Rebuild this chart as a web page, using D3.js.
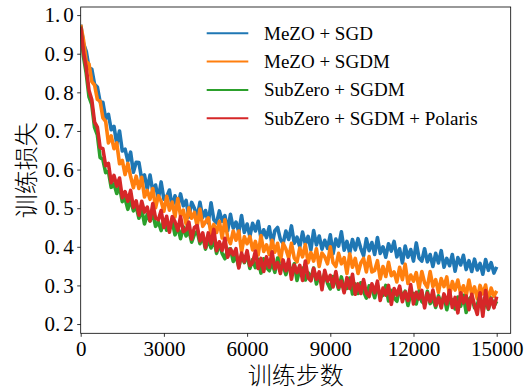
<!DOCTYPE html>
<html>
<head>
<meta charset="utf-8">
<script src="https://cdn.jsdelivr.net/npm/d3@7/dist/d3.min.js"></script>
<style>
  html, body { margin: 0; padding: 0; background: #fff; }
  svg { display: block; }
</style>
</head>
<body>
<svg id="chart" width="531" height="389"></svg>
<script>
// Training loss logged every 100 steps, 0 … 15000
const stepInterval = 100;

const mezoSgd = [
  .975,.927,.906,.863,.860,.821,.814,.775,.774,.732,
  .743,.703,.712,.666,.700,.648,.653,.622,.645,.593,
  .619,.618,.575,.586,.549,.586,.544,.560,.524,.568,
  .523,.529,.547,.502,.532,.505,.537,.506,.520,.477,
  .515,.500,.476,.515,.476,.494,.462,.514,.470,.462,
  .493,.466,.481,.442,.484,.448,.464,.438,.481,.437,
  .459,.427,.461,.441,.466,.422,.444,.424,.452,.405,
  .442,.450,.419,.409,.441,.419,.454,.409,.425,.400,
  .438,.407,.427,.392,.442,.405,.428,.394,.417,.396,
  .431,.382,.420,.402,.439,.391,.414,.384,.419,.392,
  .421,.396,.377,.421,.390,.411,.380,.424,.383,.400,
  .373,.408,.389,.414,.374,.395,.358,.402,.373,.393,
  .363,.410,.371,.363,.395,.361,.380,.349,.383,.358,
  .390,.347,.370,.351,.380,.337,.372,.353,.378,.341,
  .364,.336,.368,.340,.357,.329,.367,.339,.359,.332,
  .348
];

const mezoSgdm = [
  .975,.936,.880,.873,.828,.819,.782,.777,.734,.725,
  .669,.687,.654,.669,.615,.624,.587,.616,.582,.553,
  .583,.551,.580,.529,.546,.523,.551,.501,.532,.518,
  .492,.531,.495,.516,.477,.525,.480,.495,.459,.501,
  .474,.489,.453,.498,.453,.464,.475,.433,.458,.437,
  .466,.423,.470,.424,.408,.441,.417,.441,.387,.426,
  .408,.427,.392,.414,.379,.429,.388,.405,.380,.417,
  .386,.409,.362,.409,.394,.371,.409,.371,.361,.397,
  .374,.406,.359,.385,.363,.395,.349,.384,.374,.356,
  .400,.359,.349,.383,.356,.372,.331,.382,.347,.370,
  .331,.358,.370,.335,.375,.335,.339,.364,.317,.349,
  .323,.360,.325,.335,.309,.347,.315,.355,.305,.327,
  .311,.333,.292,.336,.307,.295,.336,.297,.315,.282,
  .318,.297,.322,.273,.310,.288,.314,.279,.299,.273,
  .314,.277,.296,.265,.300,.278,.301,.258,.293,.272,
  .286
];

const subzeroSgdm = [
  .970,.892,.849,.788,.768,.709,.690,.631,.626,.592,
  .595,.554,.563,.538,.556,.517,.525,.497,.524,.493,
  .505,.474,.498,.459,.484,.467,.487,.453,.465,.442,
  .471,.443,.446,.467,.431,.453,.421,.452,.428,.443,
  .412,.432,.440,.408,.428,.394,.419,.397,.421,.383,
  .408,.383,.369,.393,.395,.362,.377,.348,.379,.359,
  .380,.344,.367,.346,.368,.332,.369,.347,.338,.360,
  .334,.371,.340,.351,.328,.355,.330,.356,.313,.342,
  .345,.314,.333,.316,.345,.304,.328,.305,.332,.306,
  .291,.323,.313,.290,.322,.292,.292,.319,.278,.304,
  .279,.307,.284,.267,.299,.293,.268,.300,.271,.275,
  .300,.260,.287,.268,.259,.292,.268,.285,.248,.278,
  .279,.252,.285,.258,.252,.285,.253,.267,.243,.273,
  .251,.274,.237,.268,.262,.239,.270,.246,.274,.230,
  .264,.271,.242,.250,.273,.231,.264,.238,.267,.246,
  .259
];

const subzeroPolaris = [
  .970,.904,.863,.805,.781,.723,.710,.657,.654,.610,
  .616,.566,.585,.557,.578,.527,.543,.518,.546,.502,
  .519,.482,.518,.490,.503,.467,.512,.474,.470,.494,
  .450,.479,.438,.478,.465,.442,.478,.439,.444,.464,
  .420,.450,.455,.415,.436,.398,.436,.408,.445,.390,
  .413,.391,.422,.373,.394,.379,.395,.345,.384,.361,
  .390,.351,.359,.389,.344,.370,.336,.374,.347,.387,
  .343,.359,.331,.366,.338,.367,.316,.353,.333,.352,
  .313,.363,.320,.312,.344,.316,.335,.289,.339,.311,
  .326,.296,.336,.295,.311,.281,.320,.292,.329,.277,
  .304,.279,.315,.280,.271,.304,.281,.311,.261,.293,
  .275,.300,.251,.292,.275,.298,.258,.283,.261,.302,
  .252,.282,.265,.287,.242,.280,.258,.288,.248,.268,
  .242,.278,.252,.287,.243,.269,.229,.281,.255,.273,
  .237,.277,.249,.225,.281,.220,.287,.240,.266,.242,
  .271
];

const seriesNames = ["MeZO + SGD", "MeZO + SGDM", "SubZero + SGDM", "SubZero + SGDM + Polaris"];
const seriesValues = [mezoSgd, mezoSgdm, subzeroSgdm, subzeroPolaris];
const seriesColors = ["#1f77b4", "#ff7f0e", "#2ca02c", "#d62728"];

const xTicks = [0, 3000, 6000, 9000, 12000, 15000];
const yTicks = [0.2, 0.3, 0.4, 0.5, 0.6, 0.7, 0.8, 0.9, 1.0];
const xTitle = "训练步数";
const yTitle = "训练损失";

// ---- layout ----
const plot = { left: 80.7, right: 510.7, top: 7, bottom: 333.3 };
const serif = "'Liberation Serif', 'Times New Roman', 'DejaVu Serif', serif";
const cjk = "'Noto Sans CJK SC', 'Noto Sans', sans-serif";

const svg = d3.select("#chart");

const x = d3.scaleLinear().domain([0, 15505]).range([plot.left, plot.right]);
const y = d3.scaleLinear().domain([0.176, 1.021]).range([plot.bottom, plot.top]);

svg.append("defs").append("clipPath").attr("id", "plot-clip")
  .append("rect")
  .attr("x", plot.left).attr("y", plot.top)
  .attr("width", plot.right - plot.left).attr("height", plot.bottom - plot.top);

// ---- loss curves ----
const line = d3.line()
  .x((d, i) => x(i * stepInterval))
  .y(d => y(d));

const curves = svg.append("g").attr("clip-path", "url(#plot-clip)");
seriesValues.forEach((vals, k) => {
  curves.append("path")
    .datum(vals)
    .attr("d", line)
    .attr("fill", "none")
    .attr("stroke", seriesColors[k])
    .attr("stroke-width", 3.6)
    .attr("stroke-linejoin", "round");
});

// ---- axes ----
const xAxis = d3.axisBottom(x).tickValues(xTicks).tickFormat(d3.format("d"))
  .tickSizeInner(3.5).tickSizeOuter(0).tickPadding(4);
const yAxis = d3.axisLeft(y).tickValues(yTicks)
  .tickSizeInner(3.5).tickSizeOuter(0).tickPadding(3.5);

const gx = svg.append("g").attr("transform", `translate(0,${plot.bottom})`).call(xAxis);
const gy = svg.append("g").attr("transform", `translate(${plot.left},0)`).call(yAxis);

[gx, gy].forEach(g => {
  g.attr("font-family", null).attr("font-size", null);
  g.select(".domain").remove();
  g.selectAll(".tick line").attr("stroke", "#000").attr("stroke-width", 0.8);
  g.selectAll(".tick text")
    .attr("fill", "#000")
    .style("font-family", serif)
    .style("font-size", "21px");
});

// decimal labels set with a little extra room after the point
gy.selectAll(".tick text").each(function (d) {
  const parts = d.toFixed(1).split(".");
  const t = d3.select(this).text(null);
  t.append("tspan").text(parts[0] + ".");
  t.append("tspan").attr("dx", 3).text(parts[1]);
});

// frame
svg.append("rect")
  .attr("x", plot.left).attr("y", plot.top)
  .attr("width", plot.right - plot.left).attr("height", plot.bottom - plot.top)
  .attr("fill", "none").attr("stroke", "#000").attr("stroke-width", 0.8);

// ---- axis titles ----
svg.append("text")
  .attr("x", (plot.left + plot.right) / 2).attr("y", 373)
  .attr("text-anchor", "middle").attr("dominant-baseline", "central")
  .style("font-family", cjk).style("font-size", "24px").style("font-weight", 300)
  .attr("fill", "#000")
  .text(xTitle);

svg.append("text")
  .attr("transform", `translate(24,${(plot.top + plot.bottom) / 2}) rotate(-90)`)
  .attr("text-anchor", "middle").attr("dominant-baseline", "central")
  .style("font-family", cjk).style("font-size", "24px").style("font-weight", 300)
  .attr("fill", "#000")
  .text(yTitle);

// ---- legend ----
const legend = svg.append("g").attr("transform", "translate(206.7,33.3)");
seriesNames.forEach((name, k) => {
  const row = legend.append("g").attr("transform", `translate(0,${k * 28.3})`);
  row.append("line")
    .attr("x1", 0).attr("x2", 41.6).attr("y1", 0).attr("y2", 0)
    .attr("stroke", seriesColors[k]).attr("stroke-width", 2);
  row.append("text")
    .attr("x", 57.3).attr("y", 0)
    .attr("dominant-baseline", "central")
    .style("font-family", serif).style("font-size", "19px")
    .attr("fill", "#000")
    .text(name);
});
</script>
</body>
</html>
